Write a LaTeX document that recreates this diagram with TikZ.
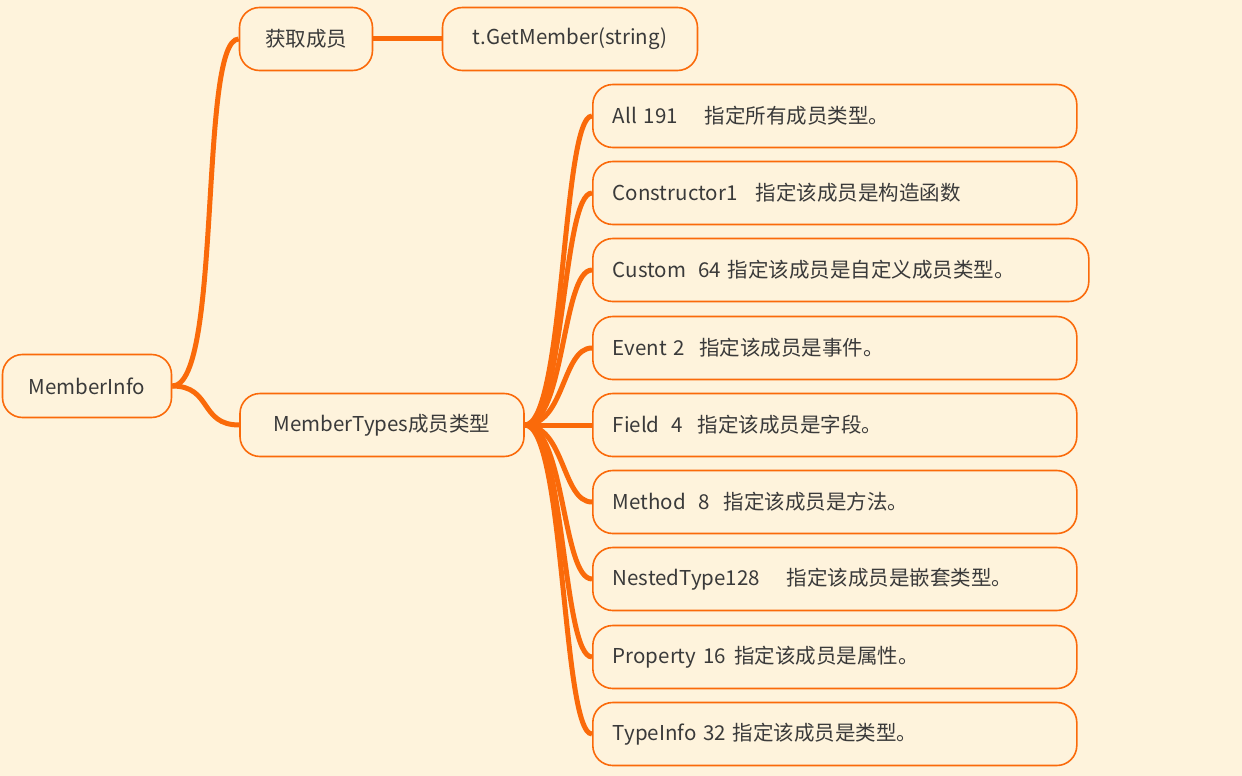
\documentclass[tikz,border=0pt]{standalone}
\usepackage{fontspec}
\setmainfont{Noto Sans CJK SC}
\definecolor{bg}{HTML}{FEF3DC}
\definecolor{org}{HTML}{FA6A0A}
\definecolor{txt}{HTML}{3A3A3A}
\begin{document}
\begin{tikzpicture}[x=1pt,y=-1pt,
  box/.style={draw=org,line width=1.6pt,fill=bg,rounded corners=20pt,minimum height=63pt,text=txt,font=\fontsize{20.5}{24}\selectfont,inner xsep=20pt},
  leaf/.style={box,anchor=west,minimum width=484pt,text width=444pt,align=left},
  conn/.style={draw=org,line width=5pt}]
\fill[bg] (0,0) rectangle (1242,776);
\useasboundingbox (0,0) rectangle (1242,776);
\node[box,minimum width=169pt] (mi) at (87,386) {MemberInfo};
\node[box,minimum width=133pt] (hq) at (306,39) {获取成员};
\node[box,minimum width=255pt] (gm) at (570,39) {t.GetMember(string)};
\node[box,minimum width=284pt] (mt) at (382,425) {MemberTypes成员类型};
\node[leaf] (l1) at (592,116) {All 191\hspace{1.3em}指定所有成员类型。};
\node[leaf] (l2) at (592,193) {Constructor1\hspace{0.9em}指定该成员是构造函数};
\node[leaf,minimum width=496pt,text width=456pt] (l3) at (592,270) {Custom\hspace{0.6em}64 指定该成员是自定义成员类型。};
\node[leaf] (l4) at (592,348) {Event 2\hspace{0.7em}指定该成员是事件。};
\node[leaf] (l5) at (592,425) {Field\hspace{0.6em}4\hspace{0.7em}指定该成员是字段。};
\node[leaf] (l6) at (592,502) {Method\hspace{0.6em}8\hspace{0.7em}指定该成员是方法。};
\node[leaf] (l7) at (592,579) {NestedType128\hspace{1.3em}指定该成员是嵌套类型。};
\node[leaf] (l8) at (592,657) {Property 16\hspace{0.4em}指定该成员是属性。};
\node[leaf] (l9) at (592,734) {TypeInfo 32 指定该成员是类型。};
\draw[conn] (mi.east) .. controls +(50,0) and +(-40,0) .. (hq.west);
\draw[conn] (mi.east) .. controls +(40,0) and +(-40,0) .. (mt.west);
\draw[conn] (hq.east) -- (gm.west);
\foreach \i in {1,...,9}{
  \draw[conn] (mt.east) .. controls +(40,0) and +(-30,0) .. (l\i.west);
}
\end{tikzpicture}
\end{document}
